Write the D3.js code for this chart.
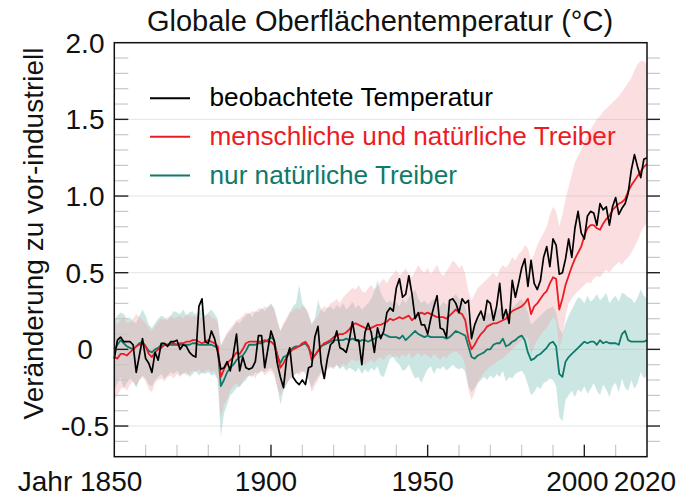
<!DOCTYPE html>
<html><head><meta charset="utf-8">
<script src="https://cdn.jsdelivr.net/npm/d3@7"></script>
<style>
html,body{margin:0;padding:0;background:#fff;}
svg{display:block;font-family:"Liberation Sans",Arial,sans-serif;}
</style></head><body>
<svg id="chart" width="681" height="498"></svg>
<script>
const years = d3.range(1850, 2021);

const observed = [
-0.06,0.06,0.08,0.05,0.05,0.05,0.03,-0.15,-0.04,0.07,
-0.06,-0.09,-0.15,-0.02,-0.07,0.04,0.04,0.02,0.05,0.05,
0.06,0.00,0.03,0.02,-0.02,-0.04,-0.05,0.28,0.33,0.05,
0.04,0.12,0.07,-0.02,-0.13,-0.12,-0.08,-0.14,-0.03,0.10,
-0.14,-0.05,-0.12,-0.13,-0.12,-0.08,0.09,0.09,-0.12,0.00,
0.12,0.06,-0.09,-0.18,-0.25,-0.06,0.01,-0.18,-0.21,-0.23,
-0.20,-0.23,-0.12,-0.11,0.08,0.15,-0.09,-0.19,-0.06,0.03,
0.05,0.12,0.01,0.00,-0.02,0.06,0.18,0.06,0.06,-0.10,
0.11,0.17,0.11,-0.02,0.14,0.07,0.12,0.24,0.27,0.25,
0.40,0.46,0.34,0.36,0.48,0.36,0.20,0.24,0.16,0.16,
0.10,0.20,0.28,0.35,0.14,0.13,0.08,0.32,0.33,0.30,
0.24,0.33,0.30,0.32,0.07,0.16,0.21,0.25,0.19,0.32,
0.30,0.19,0.28,0.43,0.20,0.26,0.17,0.45,0.34,0.43,
0.53,0.59,0.41,0.58,0.43,0.39,0.45,0.60,0.67,0.54,
0.72,0.68,0.49,0.50,0.59,0.72,0.60,0.79,0.90,0.76,
0.72,0.87,0.90,0.89,0.81,0.95,0.91,0.93,0.81,0.93,
0.99,0.88,0.92,0.95,1.02,1.17,1.27,1.19,1.12,1.24,
1.25];

const humanNatural = [
-0.05,-0.06,-0.03,-0.03,-0.04,-0.02,0.00,0.02,0.03,0.04,
0.02,-0.03,-0.05,-0.02,0.00,0.01,0.03,0.03,0.04,0.04,
0.03,0.04,0.04,0.05,0.05,0.06,0.06,0.05,0.04,0.05,
0.06,0.05,0.04,0.02,-0.18,-0.13,-0.09,-0.07,-0.05,-0.02,
-0.03,0.00,0.04,0.05,0.05,0.05,0.05,0.05,0.06,0.05,
0.05,0.03,-0.03,-0.12,-0.09,-0.05,-0.02,0.00,0.01,0.02,
0.04,0.05,0.02,-0.07,-0.04,-0.01,0.02,0.04,0.05,0.06,
0.08,0.09,0.10,0.10,0.11,0.13,0.16,0.17,0.16,0.15,
0.14,0.13,0.14,0.15,0.16,0.16,0.17,0.18,0.20,0.19,
0.20,0.21,0.20,0.21,0.22,0.19,0.21,0.23,0.24,0.23,
0.24,0.23,0.22,0.21,0.21,0.21,0.20,0.22,0.24,0.26,
0.24,0.23,0.19,0.07,0.00,0.03,0.07,0.10,0.12,0.15,
0.16,0.17,0.17,0.18,0.19,0.20,0.23,0.25,0.26,0.27,
0.28,0.30,0.33,0.23,0.28,0.30,0.33,0.36,0.38,0.43,
0.47,0.46,0.26,0.33,0.42,0.48,0.54,0.59,0.63,0.67,
0.74,0.79,0.81,0.81,0.79,0.78,0.82,0.85,0.87,0.91,
0.93,0.95,0.96,0.98,1.03,1.07,1.10,1.13,1.16,1.19,
1.21];

const naturalOnly = [
0.00,0.03,0.06,0.04,0.02,0.01,0.00,0.02,0.04,0.05,
0.02,-0.01,-0.02,0.00,0.01,0.03,0.03,0.03,0.03,0.03,
0.03,0.03,0.03,0.03,0.03,0.04,0.04,0.03,0.03,0.03,
0.03,0.03,0.02,0.01,-0.24,-0.20,-0.15,-0.12,-0.10,-0.07,
-0.05,-0.04,-0.01,0.03,0.03,0.03,0.04,0.04,0.05,0.06,
0.08,0.06,-0.04,-0.09,-0.05,-0.04,-0.01,0.01,0.02,0.02,
0.03,0.04,0.01,-0.03,-0.04,-0.01,0.02,0.03,0.04,0.05,
0.06,0.06,0.06,0.06,0.07,0.06,0.07,0.06,0.05,0.06,
0.06,0.05,0.06,0.07,0.08,0.09,0.10,0.09,0.08,0.08,
0.08,0.07,0.09,0.06,0.08,0.10,0.12,0.10,0.09,0.08,
0.09,0.08,0.08,0.08,0.08,0.08,0.07,0.08,0.10,0.12,
0.11,0.10,0.09,0.02,-0.05,-0.06,-0.04,-0.03,-0.02,0.00,
0.00,0.03,0.04,0.04,0.07,0.02,0.03,0.05,0.06,0.08,
0.09,0.06,-0.02,-0.07,-0.06,-0.04,-0.03,-0.01,0.01,0.04,
0.05,0.02,-0.16,-0.18,-0.08,-0.05,-0.03,-0.01,0.01,0.03,
0.05,0.04,0.05,0.05,0.03,0.06,0.04,0.05,0.04,0.04,
0.04,0.03,0.10,0.12,0.06,0.05,0.05,0.05,0.05,0.05,
0.06];

const naturalHigh = [
0.19,0.22,0.24,0.23,0.20,0.21,0.18,0.17,0.22,0.26,
0.22,0.16,0.14,0.17,0.20,0.22,0.21,0.19,0.22,0.25,
0.24,0.23,0.26,0.22,0.24,0.25,0.21,0.24,0.27,0.22,
0.24,0.26,0.23,0.20,0.02,0.06,0.10,0.12,0.15,0.18,
0.17,0.20,0.22,0.24,0.21,0.25,0.24,0.27,0.25,0.28,
0.30,0.27,0.18,0.12,0.16,0.19,0.24,0.28,0.30,0.42,
0.30,0.27,0.22,0.17,0.20,0.32,0.26,0.24,0.27,0.28,
0.26,0.29,0.27,0.30,0.26,0.28,0.31,0.27,0.29,0.26,
0.28,0.30,0.33,0.38,0.45,0.37,0.33,0.30,0.32,0.29,
0.31,0.28,0.33,0.30,0.34,0.36,0.39,0.33,0.30,0.32,
0.29,0.31,0.33,0.30,0.28,0.31,0.29,0.32,0.34,0.36,
0.33,0.31,0.28,0.20,0.14,0.16,0.19,0.21,0.22,0.24,
0.23,0.26,0.25,0.27,0.28,0.24,0.26,0.27,0.29,0.31,
0.33,0.29,0.24,0.16,0.18,0.20,0.22,0.24,0.26,0.27,
0.28,0.24,0.14,0.10,0.17,0.22,0.26,0.30,0.34,0.33,
0.30,0.35,0.31,0.33,0.36,0.32,0.34,0.37,0.30,0.33,
0.35,0.31,0.37,0.36,0.34,0.33,0.30,0.34,0.39,0.35,
0.33];

const naturalLow = [
-0.27,-0.22,-0.18,-0.26,-0.22,-0.19,-0.21,-0.25,-0.20,-0.17,
-0.19,-0.23,-0.24,-0.20,-0.18,-0.16,-0.19,-0.17,-0.15,-0.16,
-0.14,-0.17,-0.16,-0.15,-0.18,-0.16,-0.14,-0.17,-0.15,-0.16,
-0.15,-0.17,-0.16,-0.20,-0.57,-0.42,-0.36,-0.30,-0.28,-0.25,
-0.24,-0.22,-0.20,-0.17,-0.18,-0.15,-0.16,-0.14,-0.15,-0.13,
-0.12,-0.15,-0.24,-0.36,-0.27,-0.23,-0.19,-0.17,-0.16,-0.15,
-0.14,-0.16,-0.20,-0.25,-0.21,-0.18,-0.15,-0.14,-0.12,-0.11,
-0.12,-0.10,-0.13,-0.11,-0.14,-0.12,-0.13,-0.15,-0.12,-0.16,
-0.13,-0.15,-0.12,-0.14,-0.11,-0.17,-0.18,-0.12,-0.06,-0.05,
-0.08,-0.10,-0.14,-0.13,-0.10,-0.15,-0.19,-0.18,-0.22,-0.17,
-0.13,-0.11,-0.16,-0.12,-0.13,-0.11,-0.14,-0.12,-0.10,-0.12,
-0.13,-0.12,-0.15,-0.24,-0.28,-0.25,-0.22,-0.20,-0.18,-0.20,
-0.17,-0.19,-0.16,-0.18,-0.14,-0.21,-0.18,-0.19,-0.16,-0.15,
-0.14,-0.17,-0.23,-0.30,-0.28,-0.24,-0.26,-0.22,-0.21,-0.19,
-0.20,-0.24,-0.44,-0.47,-0.33,-0.30,-0.27,-0.31,-0.26,-0.28,
-0.24,-0.29,-0.26,-0.22,-0.27,-0.30,-0.23,-0.26,-0.31,-0.24,
-0.22,-0.28,-0.19,-0.25,-0.27,-0.20,-0.26,-0.22,-0.15,-0.19,
-0.17];

const humanHigh = [
0.20,0.16,0.19,0.21,0.17,0.18,0.20,0.23,0.21,0.19,
0.17,0.14,0.12,0.15,0.18,0.20,0.19,0.21,0.22,0.20,
0.21,0.22,0.20,0.23,0.22,0.21,0.24,0.22,0.20,0.22,
0.23,0.21,0.20,0.18,0.03,0.07,0.11,0.14,0.16,0.19,
0.20,0.22,0.24,0.23,0.25,0.24,0.27,0.26,0.28,0.27,
0.29,0.26,0.20,0.12,0.17,0.21,0.24,0.25,0.27,0.26,
0.28,0.27,0.24,0.15,0.19,0.22,0.26,0.28,0.27,0.30,
0.31,0.33,0.30,0.34,0.36,0.38,0.40,0.39,0.42,0.38,
0.37,0.40,0.42,0.39,0.41,0.44,0.46,0.43,0.47,0.49,
0.52,0.48,0.50,0.53,0.49,0.47,0.51,0.55,0.52,0.50,
0.53,0.49,0.52,0.55,0.50,0.48,0.51,0.54,0.58,0.56,
0.53,0.55,0.49,0.38,0.32,0.36,0.40,0.42,0.44,0.46,
0.48,0.50,0.47,0.52,0.55,0.53,0.56,0.60,0.58,0.62,
0.64,0.68,0.66,0.58,0.62,0.68,0.72,0.76,0.80,0.88,
0.93,0.90,0.80,0.88,0.98,1.06,1.14,1.22,1.26,1.30,
1.36,1.40,1.43,1.47,1.50,1.52,1.55,1.57,1.59,1.61,
1.63,1.65,1.68,1.71,1.74,1.77,1.82,1.86,1.88,1.88,
1.86];

const humanLow = [
-0.33,-0.30,-0.26,-0.24,-0.27,-0.23,-0.21,-0.24,-0.20,-0.18,
-0.21,-0.26,-0.28,-0.22,-0.20,-0.19,-0.21,-0.18,-0.17,-0.19,
-0.16,-0.18,-0.15,-0.17,-0.16,-0.14,-0.15,-0.13,-0.16,-0.14,
-0.13,-0.15,-0.14,-0.18,-0.45,-0.36,-0.32,-0.27,-0.24,-0.22,
-0.25,-0.21,-0.18,-0.17,-0.16,-0.19,-0.15,-0.14,-0.17,-0.15,
-0.14,-0.17,-0.25,-0.30,-0.26,-0.22,-0.20,-0.18,-0.15,-0.17,
-0.15,-0.14,-0.19,-0.28,-0.24,-0.20,-0.16,-0.15,-0.13,-0.12,
-0.13,-0.10,-0.12,-0.09,-0.11,-0.08,-0.06,-0.08,-0.07,-0.09,
-0.10,-0.08,-0.07,-0.09,-0.06,-0.05,-0.07,-0.04,-0.03,-0.05,
-0.04,-0.06,-0.03,-0.05,-0.02,-0.06,-0.04,-0.02,-0.05,-0.03,
-0.04,-0.06,-0.03,-0.05,-0.07,-0.04,-0.06,-0.03,-0.02,-0.01,
-0.03,-0.05,-0.10,-0.26,-0.33,-0.28,-0.22,-0.18,-0.15,-0.13,
-0.11,-0.10,-0.08,-0.07,-0.06,-0.04,-0.02,0.00,0.02,0.04,
0.06,0.08,0.07,-0.04,0.02,0.06,0.09,0.12,0.14,0.18,
0.21,0.19,0.00,0.08,0.22,0.30,0.33,0.36,0.38,0.40,
0.42,0.44,0.43,0.46,0.48,0.47,0.50,0.52,0.50,0.53,
0.55,0.57,0.55,0.58,0.60,0.63,0.67,0.71,0.76,0.80,
0.82];

const yTickValues = [2.0, 1.5, 1.0, 0.5, 0, -0.5];
const yTickLabels = ["2.0", "1.5", "1.0", "0.5", "0", "-0.5"];
const xTickValues = [1850, 1900, 1950, 2000, 2020];
const xTickLabels = ["Jahr 1850", "1900", "1950", "2000", "2020"];
const seriesNames = ["beobachtete Temperatur", "menschliche und natürliche Treiber", "nur natürliche Treiber"];
const seriesColors = ["#000000", "#ec1c24", "#0f7a6a"];
const titleText = "Globale Oberflächentemperatur (°C)";
const yAxisTitle = "Veränderung zu vor-industriell";

const L = 114.3, R = 647, T = 42.7, B = 456.7;
const x = d3.scaleLinear().domain([1850, 2020]).range([L, R]);
const y = d3.scaleLinear().domain([-0.7, 2.0]).range([B, T]);

const svg = d3.select("#chart");

svg.append("g").selectAll("line").data(yTickValues).join("line")
  .attr("x1", L).attr("x2", R).attr("y1", d => y(d)).attr("y2", d => y(d))
  .attr("stroke", "#e4e4e4").attr("stroke-width", 1);

const rows = years.map((yr, i) => ({
  year: yr, obs: observed[i], hn: humanNatural[i], nat: naturalOnly[i],
  nlo: naturalLow[i], nhi: naturalHigh[i], hlo: humanLow[i], hhi: humanHigh[i]
}));

const areaN = d3.area().x(d => x(d.year)).y0(d => y(d.nlo)).y1(d => y(d.nhi));
const areaH = d3.area().x(d => x(d.year)).y0(d => y(d.hlo)).y1(d => y(d.hhi));
svg.append("path").datum(rows).attr("d", areaN).attr("fill", "#8fcac0").attr("fill-opacity", 0.45);
svg.append("path").datum(rows).attr("d", areaH).attr("fill", "#f29aa2").attr("fill-opacity", 0.33);

const line = key => d3.line().x(d => x(d.year)).y(d => y(d[key]));
svg.append("path").datum(rows).attr("d", line("nat")).attr("fill", "none")
  .attr("stroke", seriesColors[2]).attr("stroke-width", 1.8).attr("stroke-linejoin", "round");
svg.append("path").datum(rows).attr("d", line("hn")).attr("fill", "none")
  .attr("stroke", seriesColors[1]).attr("stroke-width", 1.8).attr("stroke-linejoin", "round");
svg.append("path").datum(rows).attr("d", line("obs")).attr("fill", "none")
  .attr("stroke", seriesColors[0]).attr("stroke-width", 1.7).attr("stroke-linejoin", "round");

const yAll = y.ticks(27);
const isMajorY = v => Math.abs(v * 2 - Math.round(v * 2)) < 1e-6;
const tk = svg.append("g");
yAll.filter(v => v > -0.7 + 1e-6 && v < 2.0 - 1e-6).forEach(v => {
  const maj = isMajorY(v);
  tk.append("line").attr("x1", L).attr("x2", L + 14).attr("y1", y(v)).attr("y2", y(v))
    .attr("stroke", maj ? "#222" : "#c8c8c8").attr("stroke-width", maj ? 1.4 : 1.2);
  tk.append("line").attr("x1", R).attr("x2", R + 13).attr("y1", y(v)).attr("y2", y(v))
    .attr("stroke", maj ? "#222" : "#c8c8c8").attr("stroke-width", maj ? 1.4 : 1.2);
});
d3.range(1860, 2020, 10).forEach(v => {
  const maj = v % 50 === 0;
  tk.append("line").attr("x1", x(v)).attr("x2", x(v)).attr("y1", B).attr("y2", B - 12)
    .attr("stroke", maj ? "#222" : "#c8c8c8").attr("stroke-width", maj ? 1.4 : 1.2);
});

svg.append("rect").attr("x", L).attr("y", T).attr("width", R - L).attr("height", B - T)
  .attr("fill", "none").attr("stroke", "#111").attr("stroke-width", 1.5);

svg.append("g").selectAll("text").data(yTickValues).join("text")
  .attr("x", 85).attr("y", d => y(d) + 10).attr("text-anchor", "middle")
  .attr("font-size", 28).attr("fill", "#111").text((d, i) => yTickLabels[i]);

svg.append("g").selectAll("text").data(xTickValues).join("text")
  .attr("x", (d, i) => i === 0 ? x(d) + 28 : x(d) - (i === 4 ? 2 : (i === 3 ? 7 : 5)))
  .attr("y", 491)
  .attr("text-anchor", (d, i) => i === 0 ? "end" : "middle")
  .attr("font-size", 28).attr("fill", "#111").text((d, i) => xTickLabels[i]);

svg.append("text").attr("x", 380).attr("y", 31).attr("text-anchor", "middle")
  .attr("font-size", 29).attr("fill", "#111").text(titleText);

svg.append("text").attr("transform", "translate(43,233.5) rotate(-90)")
  .attr("text-anchor", "middle").attr("font-size", 28).attr("fill", "#111").text(yAxisTitle);

const legY = [98.3, 136.7, 175.5];
const lg = svg.append("g");
seriesNames.forEach((name, i) => {
  lg.append("line").attr("x1", 150).attr("x2", 190).attr("y1", legY[i]).attr("y2", legY[i])
    .attr("stroke", seriesColors[i]).attr("stroke-width", 2);
  lg.append("text").attr("x", 209.5).attr("y", legY[i] + 8).attr("font-size", 26.2)
    .attr("fill", seriesColors[i]).text(name);
});
</script>
</body></html>
